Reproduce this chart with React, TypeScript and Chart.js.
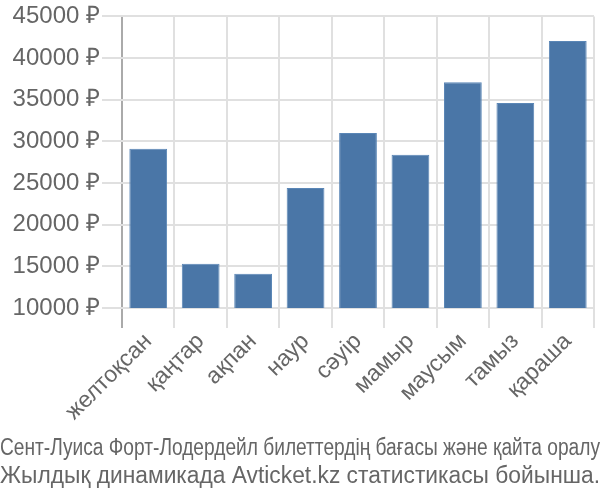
import React, { useEffect, useRef } from "react";
import { Chart, registerables } from "chart.js";

Chart.register(...registerables);

const categories = ["желтоқсан", "қаңтар", "ақпан", "наур", "сәуір", "мамыр", "маусым", "тамыз", "қараша"];
const prices = [29100, 15300, 14100, 24400, 31000, 28400, 37100, 34600, 42050];
const yTicks = [10000, 15000, 20000, 25000, 30000, 35000, 40000, 45000];
const titleLines = [
  "Сент-Луиса Форт-Лодердейл билеттердің бағасы және қайта оралу",
  "Жылдық динамикада Avticket.kz статистикасы бойынша.",
];

const FONT = "'Liberation Sans', Arial, sans-serif";

export default function App() {
  const ref = useRef<HTMLCanvasElement | null>(null);
  useEffect(() => {
    if (!ref.current) return;
    const chart = new Chart(ref.current, {
      type: "bar",
      data: {
        labels: categories,
        datasets: [
          {
            data: prices,
            backgroundColor: "#4a76a7",
            borderColor: "#5a86b6",
            borderWidth: 1,
          },
        ],
      },
      options: {
        responsive: false,
        animation: false,
        layout: { padding: { left: 0, right: 0, top: 0, bottom: 0 } },
        plugins: {
          legend: { display: false },
          tooltip: { enabled: false },
          title: {
            display: true,
            position: "bottom",
            text: titleLines,
            color: "#666",
            font: { family: FONT, size: 23, weight: "normal", lineHeight: 1.22 },
            padding: { top: 9, bottom: 9 },
          },
        },
        scales: {
          x: {
            grid: {
              color: (ctx: any) => (ctx.index === 0 ? "#aaaaaa" : "#e0e0e0"),
              lineWidth: 2,
              tickLength: 20,
              offset: true,
            },
            border: { display: false },
            ticks: {
              color: "#666",
              font: { family: FONT, size: 23 },
              maxRotation: 45,
              minRotation: 45,
              padding: 0,
            },
            afterFit: (s: any) => {
              s.paddingRight = 6;
            },
          },
          y: {
            min: 10000,
            max: 45000,
            afterBuildTicks: (axis: any) => {
              axis.ticks = yTicks.map((v) => ({ value: v }));
            },
            grid: { color: "#e0e0e0", lineWidth: 2, tickLength: 20 },
            border: { display: false },
            ticks: {
              color: "#666",
              font: { family: FONT, size: 24 },
              padding: 2,
              callback: (v: any) => `${v} ₽`,
            },
            afterFit: (s: any) => {
              s.width = 122;
            },
          },
        },
      },
    });
    return () => chart.destroy();
  }, []);
  return (
    <div style={{ position: "absolute", left: 0, top: 0, width: 600, height: 500, background: "#fff" }}>
      <canvas ref={ref} width={600} height={500} />
    </div>
  );
}
